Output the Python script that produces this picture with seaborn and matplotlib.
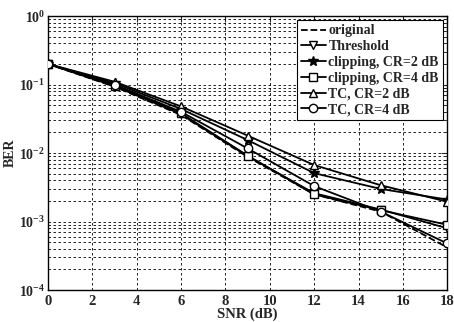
# BER vs SNR curves for the clipping / TC schemes

import numpy as np
import pandas as pd
import matplotlib
matplotlib.use("Agg")
import matplotlib.pyplot as plt
import seaborn as sns

# Data
snr = [0, 3, 6, 9, 12, 15, 18]
ber_original = [0.2, 0.093, 0.036, 0.0088, 0.0025, 0.0014, 0.00042]
ber_threshold = [0.2, 0.095, 0.037, 0.0090, 0.0026, 0.0015, 0.00080]
ber_clip2 = [0.2, 0.105, 0.044, 0.0155, 0.0051, 0.0030, 0.0021]
ber_clip4 = [0.2, 0.097, 0.038, 0.0092, 0.0025, 0.00147, 0.00090]
ber_tc2 = [0.2, 0.110, 0.048, 0.0180, 0.0067, 0.0034, 0.00195]
ber_tc4 = [0.2, 0.100, 0.040, 0.0117, 0.0033, 0.0014, 0.00048]

labels = ["original", "Threshold", "clipping, CR=2 dB", "clipping, CR=4 dB",
          "TC, CR=2 dB", "TC, CR=4 dB"]
series = [ber_original, ber_threshold, ber_clip2, ber_clip4, ber_tc2, ber_tc4]
markers = [None, "v", "*", "s", "^", "o"]

sns.set_style("white")
plt.rcParams["font.family"] = ["Liberation Serif", "DejaVu Serif"]
plt.rcParams["font.weight"] = "bold"
plt.rcParams["mathtext.fontset"] = "custom"
plt.rcParams["mathtext.rm"] = "Liberation Serif:bold"
plt.rcParams["mathtext.default"] = "rm"

fig = plt.figure(figsize=(4.54, 3.22), dpi=100)
ax = fig.add_axes([0.106, 0.099, 0.879, 0.851])

for lab, vals, mk in zip(labels, series, markers):
    df = pd.DataFrame({"SNR": snr, "BER": vals})
    if mk is None:
        sns.lineplot(data=df, x="SNR", y="BER", ax=ax, color="black",
                     linestyle="--", linewidth=1.3, label=lab, zorder=3)
    else:
        face = "black" if mk == "*" else "white"
        sns.lineplot(data=df, x="SNR", y="BER", ax=ax, color="black",
                     linewidth=1.3, marker=mk, markersize=6 if mk != "*" else 7,
                     markerfacecolor=face, markeredgecolor="black",
                     markeredgewidth=1.0, label=lab, zorder=3)

ax.set_yscale("log")
ax.set_xlim(0, 18)
ax.set_ylim(1e-4, 1)
ax.set_xticks(range(0, 19, 2))
ax.set_yticks([1e-4, 1e-3, 1e-2, 1e-1, 1])
ax.yaxis.set_minor_locator(matplotlib.ticker.LogLocator(base=10, subs=np.arange(2, 10)))
ax.yaxis.set_minor_formatter(matplotlib.ticker.NullFormatter())

ax.grid(True, which="major", axis="both", color="black", linestyle=(0, (3, 3)), linewidth=0.6)
ax.grid(True, which="minor", axis="y", color="black", linestyle=(0, (3, 3)), linewidth=0.6)
for s in ax.spines.values():
    s.set_color("black")
    s.set_linewidth(1.0)

ax.tick_params(axis="x", which="major", labelsize=10.5, direction="in", length=4,
               top=True)
ax.tick_params(axis="y", which="major", labelsize=10, direction="in", length=4,
               right=True, pad=2)
ax.tick_params(axis="y", which="minor", direction="in", length=2, right=True)
for t in ax.get_xticklabels() + ax.get_yticklabels():
    t.set_fontweight("bold")

ax.set_xlabel("SNR (dB)", fontsize=10.5, fontweight="bold", labelpad=0)
ax.set_ylabel("BER", fontsize=10, fontweight="bold")
ax.yaxis.set_label_coords(-0.078, 0.5)

leg = ax.legend(loc="upper right", frameon=True, fancybox=False,
                edgecolor="black", framealpha=1, handlelength=1.8,
                handletextpad=0.2, borderpad=0.3, labelspacing=0.2,
                borderaxespad=0.3, prop={"weight": "bold", "size": 10})
leg.get_frame().set_linewidth(0.8)

fig.savefig("out.png", dpi=100)
